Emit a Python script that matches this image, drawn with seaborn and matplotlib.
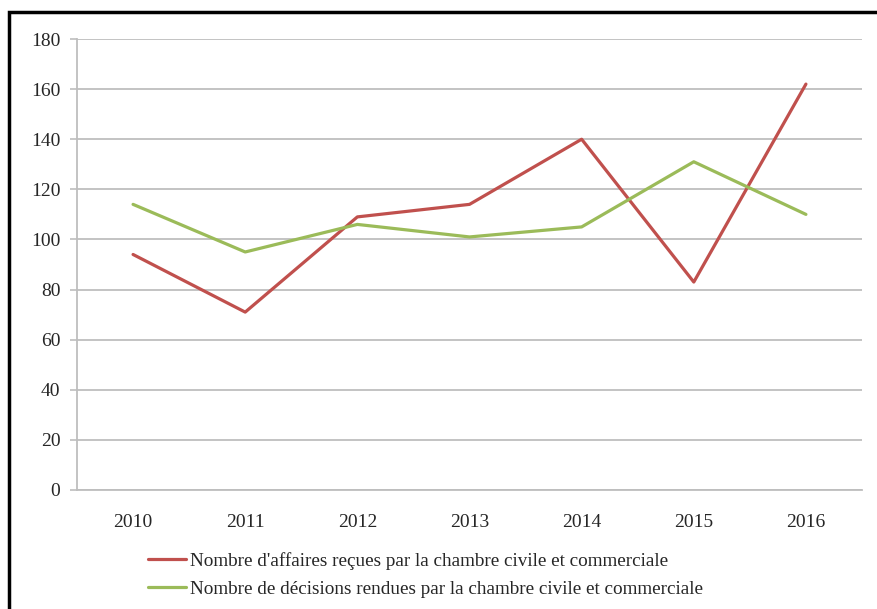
import matplotlib
matplotlib.use("Agg")
import matplotlib.pyplot as plt
from matplotlib.patches import Rectangle
from matplotlib.ticker import FixedLocator
import seaborn as sns
import pandas as pd

years = ["2010", "2011", "2012", "2013", "2014", "2015", "2016"]
affaires_recues = [94, 71, 109, 114, 140, 83, 162]
decisions_rendues = [114, 95, 106, 101, 105, 131, 110]
series_names = [
    "Nombre d'affaires reçues par la chambre civile et commerciale",
    "Nombre de décisions rendues par la chambre civile et commerciale",
]
y_ticks = [0, 20, 40, 60, 80, 100, 120, 140, 160, 180]

df = pd.DataFrame({
    "Année": years * 2,
    "Valeur": affaires_recues + decisions_rendues,
    "Série": [series_names[0]] * len(years) + [series_names[1]] * len(years),
})

sns.set_theme(style="white")
plt.rcParams["font.family"] = ["Liberation Serif", "DejaVu Serif"]

fig = plt.figure(figsize=(8.78, 6.09), dpi=100)
ax = fig.add_axes([77 / 878, 1 - 490 / 609, (862 - 77) / 878, (490 - 39) / 609])

palette = {series_names[0]: "#C0504D", series_names[1]: "#9BBB59"}
sns.lineplot(data=df, x="Année", y="Valeur", hue="Série", palette=palette,
             linewidth=2.3, ax=ax, legend=True, sort=False)

ax.set_xlim(-0.5, len(years) - 0.5)
ax.set_ylim(0, 180)
ax.set_yticks(y_ticks)
ax.set_xlabel("")
ax.set_ylabel("")

grid_color = "#BEBEBE"
ax.yaxis.grid(True, color=grid_color, linewidth=1.3)
ax.xaxis.grid(False)
ax.set_axisbelow(True)
for side in ("top", "right"):
    ax.spines[side].set_visible(False)
for side in ("left", "bottom"):
    ax.spines[side].set_color(grid_color)
    ax.spines[side].set_linewidth(1.3)

# category boundaries carry small tick marks, labels sit at band centres
ax.xaxis.set_minor_locator(FixedLocator([i - 0.5 for i in range(len(years) + 1)]))
ax.tick_params(axis="x", which="minor", length=4, width=1.2, color=grid_color, direction="out")
ax.tick_params(axis="x", which="major", length=0, pad=17, labelsize=14, labelcolor="#262626")
ax.tick_params(axis="y", which="major", length=5, width=1.2, color=grid_color,
               left=True, pad=7, labelsize=14, labelcolor="#262626")

ax.get_legend().remove()
handles, labels = ax.get_legend_handles_labels()
leg = fig.legend(handles, labels, loc="upper left",
                 bbox_to_anchor=(140 / 878, 1 - 544 / 609),
                 frameon=False, fontsize=13.8, handlelength=2.0, handletextpad=0.2,
                 labelspacing=0.55, borderaxespad=0)
for t in leg.get_texts():
    t.set_color("#262626")

fig.patches.append(Rectangle((9 / 878, -0.2), 1.5, 1.2 - 12 / 609,
                             transform=fig.transFigure, fill=False,
                             edgecolor="black", linewidth=2.5))

fig.savefig("out.png", dpi=100, facecolor="white")
